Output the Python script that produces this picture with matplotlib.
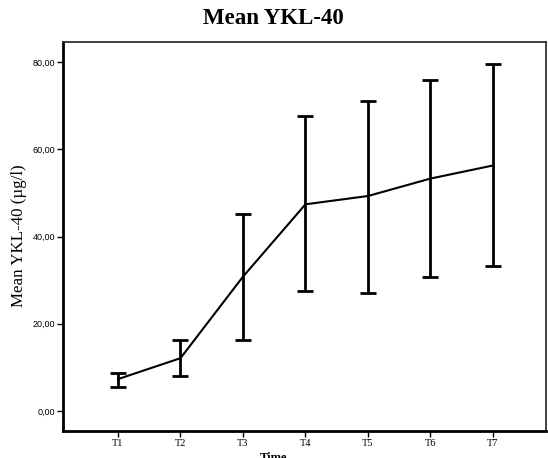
import matplotlib
matplotlib.use("Agg")
import matplotlib.pyplot as plt
import numpy as np

# values (µg/l)
times = ["T1", "T2", "T3", "T4", "T5", "T6", "T7"]
mean_ykl = [7.3, 12.1, 30.8, 47.4, 49.3, 53.3, 56.3]
upper_ci = [8.8, 16.3, 45.2, 67.6, 71.2, 75.8, 79.6]
lower_ci = [5.4, 8.0, 16.3, 27.4, 27.1, 30.7, 33.2]

x = np.arange(len(times))
mean = np.array(mean_ykl)
yerr = np.vstack([mean - np.array(lower_ci), np.array(upper_ci) - mean])

fig = plt.figure(figsize=(5.48, 4.58), dpi=100)
ax = fig.add_axes([0.115, 0.059, 0.8814, 0.849])

ax.errorbar(x, mean, yerr=yerr, fmt="none", ecolor="black", elinewidth=2.0,
            capsize=5.8, capthick=2.0, zorder=2)
ax.plot(x, mean, color="black", linewidth=1.5, zorder=3)

ax.set_xlim(-0.88, 6.85)
ax.set_ylim(-4.6, 84.6)
ax.set_yticks([0, 20, 40, 60, 80])
ax.set_yticklabels([f"{v:.2f}".replace(".", ",") for v in [0, 20, 40, 60, 80]],
                   fontsize=6.5, family="Liberation Sans")
ax.set_xticks(x)
ax.set_xticklabels(times, fontsize=7.5, family="Liberation Serif")
ax.tick_params(axis="both", direction="out", length=4, width=1, pad=1.5)

for side in ["left", "bottom"]:
    ax.spines[side].set_linewidth(2.0)
    ax.spines[side].set_color("black")
for side in ["top", "right"]:
    ax.spines[side].set_linewidth(1.3)
    ax.spines[side].set_color("#333333")

fig.text(0.499, 0.96, "Mean YKL-40", ha="center", va="center", fontsize=16.5,
         fontweight="bold", family="Liberation Serif")
fig.text(0.035, 0.485, "Mean YKL-40 (µg/l)", rotation=90, ha="center", va="center",
         fontsize=12.2, family="Liberation Serif")
fig.text(0.5, 0.0, "Time", ha="center", va="center", fontsize=9,
         fontweight="bold", family="Liberation Serif")

fig.savefig("out.png", dpi=100)
